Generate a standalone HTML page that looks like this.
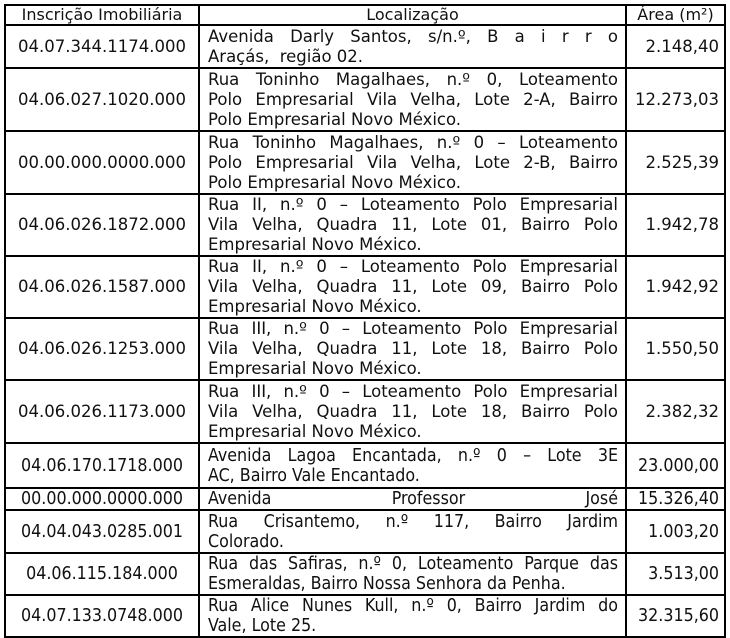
<!DOCTYPE html>
<html><head><meta charset="utf-8"><style>
html,body{margin:0;padding:0;background:#fff;width:730px;height:635px;overflow:hidden}
table{position:absolute;left:4px;top:4px;border-collapse:collapse;table-layout:fixed;font-family:"DejaVu Sans","Liberation Sans",sans-serif;font-size:16.5px;color:#111}
td{border:2px solid #000;padding:0 6px;line-height:20px;vertical-align:middle;overflow:hidden;white-space:nowrap}
td.c{text-align:center;padding:0 2px}
td.r{text-align:right;padding:0 5px 0 0}
td.j{padding:0 7px 0 8px}
td.j div.f{text-align:justify;text-align-last:justify}
tr.h td{font-size:16px;line-height:18px}
.cd{font-family:"DejaVu Sans Condensed","Liberation Sans Narrow","Liberation Sans",sans-serif;font-size:17.7px}
</style></head><body>
<table>
<colgroup><col style="width:194px"><col style="width:427px"><col style="width:99px"></colgroup>
<tr class="h" style="height:20px"><td class="c">Inscrição Imobiliária</td><td class="c">Localização</td><td class="c">Área (m²)</td></tr>
<tr style="height:43px"><td class="c">04.07.344.1174.000</td><td class="j"><div class="f">Avenida Darly Santos, s/n.º, B a i r r o</div><div>Araçás,&nbsp; região 02.</div></td><td class="r">2.148,40</td></tr>
<tr style="height:63px"><td class="c">04.06.027.1020.000</td><td class="j"><div class="f">Rua Toninho Magalhaes, n.º 0, Loteamento</div><div class="f">Polo Empresarial Vila Velha, Lote 2-A, Bairro</div><div>Polo Empresarial Novo México.</div></td><td class="r">12.273,03</td></tr>
<tr style="height:63px"><td class="c">00.00.000.0000.000</td><td class="j"><div class="f">Rua Toninho Magalhaes, n.º 0 – Loteamento</div><div class="f">Polo Empresarial Vila Velha, Lote 2-B, Bairro</div><div>Polo Empresarial Novo México.</div></td><td class="r">2.525,39</td></tr>
<tr style="height:61px"><td class="c">04.06.026.1872.000</td><td class="j"><div class="f">Rua II, n.º 0 – Loteamento Polo Empresarial</div><div class="f">Vila Velha, Quadra 11, Lote 01, Bairro Polo</div><div>Empresarial Novo México.</div></td><td class="r">1.942,78</td></tr>
<tr style="height:62px"><td class="c">04.06.026.1587.000</td><td class="j"><div class="f">Rua II, n.º 0 – Loteamento Polo Empresarial</div><div class="f">Vila Velha, Quadra 11, Lote 09, Bairro Polo</div><div>Empresarial Novo México.</div></td><td class="r">1.942,92</td></tr>
<tr style="height:62px"><td class="c">04.06.026.1253.000</td><td class="j"><div class="f">Rua III, n.º 0 – Loteamento Polo Empresarial</div><div class="f">Vila Velha, Quadra 11, Lote 18, Bairro Polo</div><div>Empresarial Novo México.</div></td><td class="r">1.550,50</td></tr>
<tr style="height:63px"><td class="c">04.06.026.1173.000</td><td class="j"><div class="f">Rua III, n.º 0 – Loteamento Polo Empresarial</div><div class="f">Vila Velha, Quadra 11, Lote 18, Bairro Polo</div><div>Empresarial Novo México.</div></td><td class="r">2.382,32</td></tr>
<tr class="cd" style="height:45px"><td class="c">04.06.170.1718.000</td><td class="j"><div class="f">Avenida Lagoa Encantada, n.º 0 – Lote 3E</div><div>AC, Bairro Vale Encantado.</div></td><td class="r">23.000,00</td></tr>
<tr class="cd" style="height:22px"><td class="c">00.00.000.0000.000</td><td class="j"><div class="f">Avenida Professor José</div></td><td class="r">15.326,40</td></tr>
<tr class="cd" style="height:43px"><td class="c">04.04.043.0285.001</td><td class="j"><div class="f">Rua Crisantemo, n.º 117, Bairro Jardim</div><div>Colorado.</div></td><td class="r">1.003,20</td></tr>
<tr class="cd" style="height:42px"><td class="c">04.06.115.184.000</td><td class="j"><div class="f">Rua das Safiras, n.º 0, Loteamento Parque das</div><div>Esmeraldas, Bairro Nossa Senhora da Penha.</div></td><td class="r">3.513,00</td></tr>
<tr class="cd" style="height:40px"><td class="c">04.07.133.0748.000</td><td class="j"><div class="f">Rua Alice Nunes Kull, n.º 0, Bairro Jardim do</div><div>Vale, Lote 25.</div></td><td class="r">32.315,60</td></tr>
</table>
</body></html>
